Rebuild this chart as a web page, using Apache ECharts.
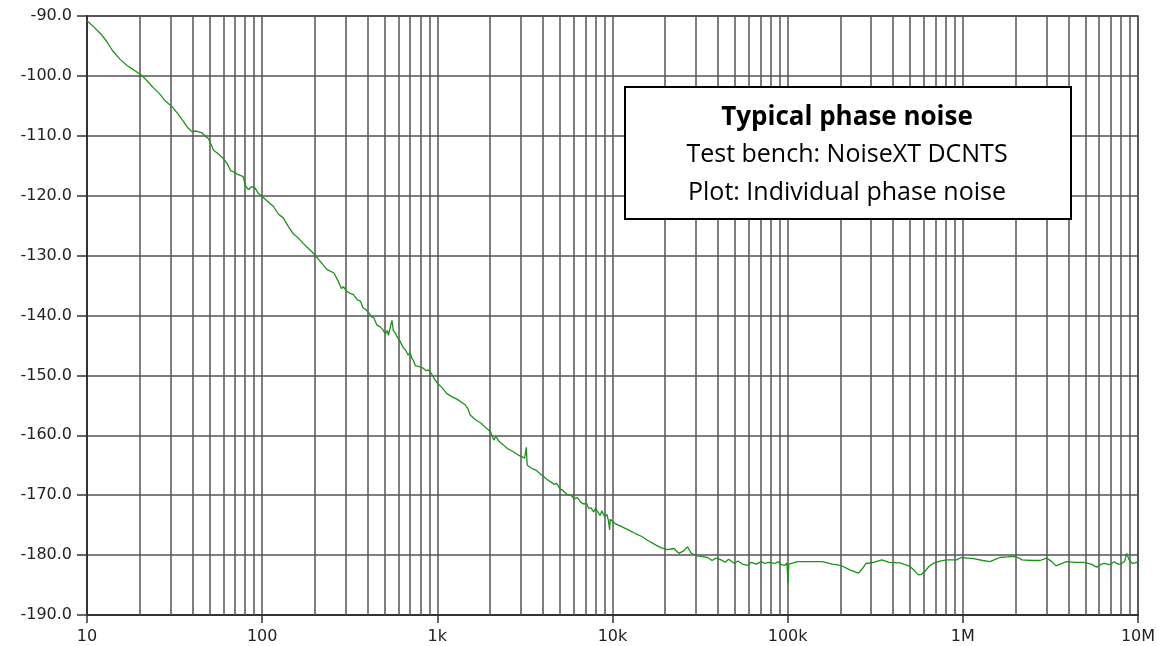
<!DOCTYPE html>
<html>
<head>
<meta charset="utf-8">
<script src="https://cdn.jsdelivr.net/npm/echarts@6/dist/echarts.min.js"></script>
<style>
html,body{margin:0;padding:0;background:#fff;}
#chart{width:1159px;height:646px;}
</style>
</head>
<body>
<div id="chart"></div>
<script>
// Offset frequency (Hz)
var freq = [
10,11,12,13,14,15.4,17,18.5,20.5,22,24,26,28,30.5,33,35.5,37.5,39.7,42,45.3,47.5,49.4,52.8,56,60,63,66,68.5,72,78,80,83.5,87,91,95,99.6,
106,116,124,132,140,150,160,172,185,196,215,234,257,272,283,291,305,318,332,350,364,376,390,405,420,434,452,472,490,505,518,526,540,551,560,575,588,610,640,660,680,700,714,730,750,780,800,830,860,890,930,972,
1000,1060,1130,1200,1300,1443,1490,1541,1650,1780,1900,2010,2100,2160,2250,2380,2510,2700,2900,3055,3150,3220,3240,3260,3450,3650,3890,4200,4500,4650,4800,5000,5200,5520,5800,6050,6300,6600,6880,7100,7300,7530,7800,8000,8240,8500,8700,9000,9300,9500,9630,9700,9840,
10300,11200,12300,13500,14700,16000,17600,19000,20600,22400,23900,25500,26800,28000,30000,32000,34900,37000,39000,41700,44000,46000,49700,52000,55000,59300,62000,66000,70800,74000,78000,84600,88000,92000,96400,99000,100500,101500,104000,
114000,130000,157000,180000,200000,228000,254000,268000,280000,310000,344000,380000,437000,500000,530000,557000,580000,605000,640000,676000,740000,807000,920000,980000,
1000000,1060000,1150000,1300000,1430000,1530000,1630000,1800000,1950000,2100000,2170000,2500000,2760000,3000000,3200000,3400000,3600000,3900000,4400000,4900000,5400000,5800000,6100000,6400000,6900000,7300000,7700000,8000000,8400000,8600000,8900000,9300000,9650000,10000000
];
// Phase noise (dBc/Hz)
var phaseNoise = [
-90.8,-91.9,-93.0,-94.3,-95.8,-97.2,-98.3,-99.0,-99.9,-100.8,-102.0,-103.0,-104.2,-105.1,-106.3,-107.6,-108.6,-109.3,-109.2,-109.5,-110.1,-110.5,-112.4,-113.0,-113.8,-114.6,-115.8,-116.0,-116.4,-116.8,-118.3,-119.0,-118.5,-118.7,-119.6,-120.1,
-120.8,-121.8,-123.1,-123.7,-125.0,-126.3,-127.0,-128.0,-128.9,-129.6,-131.0,-132.3,-132.9,-134.3,-135.5,-135.2,-136.0,-136.3,-136.5,-137.4,-137.6,-138.7,-139.0,-139.5,-140.2,-140.4,-141.6,-141.9,-142.4,-143.1,-142.5,-143.3,-141.8,-140.8,-142.5,-142.9,-143.5,-144.2,-145.4,-145.8,-146.6,-146.2,-147.1,-147.5,-148.4,-148.5,-148.6,-148.8,-149.2,-149.1,-149.8,-150.8,
-151.3,-152.0,-153.0,-153.5,-154.0,-154.9,-155.5,-156.6,-157.4,-158.0,-158.8,-159.4,-160.8,-160.2,-161.0,-161.6,-162.2,-162.7,-163.3,-163.6,-163.8,-162.0,-163.6,-165.0,-165.5,-165.8,-166.5,-167.3,-167.9,-168.2,-168.0,-168.9,-169.2,-169.9,-170.0,-170.6,-170.4,-171.2,-171.5,-171.3,-172.2,-172.1,-172.8,-172.2,-172.8,-173.4,-172.6,-173.6,-173.2,-174.4,-175.8,-174.0,-174.1,
-174.7,-175.2,-175.8,-176.4,-176.9,-177.6,-178.3,-178.8,-179.1,-178.9,-179.7,-179.3,-178.6,-179.6,-180.1,-180.2,-180.4,-180.9,-180.5,-180.8,-181.2,-180.7,-181.4,-181.0,-181.5,-181.7,-181.2,-181.5,-181.1,-181.4,-181.2,-181.4,-181.1,-181.6,-181.7,-181.3,-184.7,-181.5,-181.2,
-181.1,-181.1,-181.1,-181.5,-181.7,-182.5,-183.0,-182.2,-181.4,-181.2,-180.8,-181.2,-181.3,-181.9,-182.6,-183.3,-183.2,-182.8,-181.9,-181.4,-181.0,-180.8,-180.8,-180.4,
-180.2,-180.5,-180.6,-180.9,-181.1,-180.7,-180.4,-180.3,-180.2,-180.5,-180.8,-180.9,-180.9,-180.5,-181.0,-181.8,-181.5,-181.1,-181.2,-181.2,-181.5,-182.0,-181.6,-181.4,-181.6,-181.1,-181.5,-181.5,-181.0,-179.7,-180.8,-181.4,-181.3,-181.1
];
var xTickLabels = ['10','100','1k','10k','100k','1M','10M'];
var boxTitle = 'Typical phase noise';
var boxLines = ['Test bench: NoiseXT DCNTS', 'Plot: Individual phase noise'];

var points = freq.map(function(f, i){ return [f, phaseNoise[i]]; });
var minorX = [];
for (var d = 10; d < 1e7; d *= 10) {
  for (var m = 2; m <= 9; m++) minorX.push({xAxis: d * m});
}
var gridColor = '#555';
var labelFont = {fontFamily: 'DejaVu Sans', fontSize: 16, color: '#222'};

var chart = echarts.init(document.getElementById('chart'), null, {renderer: 'canvas'});
chart.setOption({
  animation: false,
  backgroundColor: '#fff',
  grid: {left: 87, right: 21, top: 16, bottom: 31, show: true, borderColor: '#333', borderWidth: 1.5, backgroundColor: 'transparent'},
  xAxis: {
    type: 'log', logBase: 10, min: 10, max: 1e7,
    axisLine: {show: true, onZero: false, lineStyle: {color: '#333', width: 2}},
    axisTick: {show: true, length: 8, lineStyle: {color: '#333', width: 1.5}},
    axisLabel: Object.assign({margin: 14, formatter: function(v){
      var k = Math.round(Math.log10(v)) - 1; return xTickLabels[k] || '';
    }}, labelFont),
    splitLine: {show: true, lineStyle: {color: gridColor, width: 1.5}},
    minorTick: {show: false}, minorSplitLine: {show: false}
  },
  yAxis: {
    type: 'value', min: -190, max: -90, interval: 10,
    axisLine: {show: true, lineStyle: {color: '#333', width: 2}},
    axisTick: {show: true, length: 10, lineStyle: {color: '#333', width: 1.5}},
    axisLabel: Object.assign({margin: 15, formatter: function(v){ return v.toFixed(1); }}, labelFont),
    splitLine: {show: true, lineStyle: {color: gridColor, width: 1.5}}
  },
  graphic: [
    {type: 'rect', left: 624, top: 86, z: 200, zlevel: 1, shape: {x: 0, y: 0, width: 446, height: 132}, style: {fill: '#fff', stroke: '#000', lineWidth: 2}},
    {type: 'text', x: 847, y: 118, z: 201, zlevel: 1, style: {text: boxTitle, fill: '#000', font: 'bold 26px "Open Sans"', textAlign: 'center', textVerticalAlign: 'middle'}},
    {type: 'text', x: 847, y: 155, z: 201, zlevel: 1, style: {text: boxLines[0], fill: '#000', font: '25px "Open Sans"', textAlign: 'center', textVerticalAlign: 'middle'}},
    {type: 'text', x: 847, y: 193, z: 201, zlevel: 1, style: {text: boxLines[1], fill: '#000', font: '25px "Open Sans"', textAlign: 'center', textVerticalAlign: 'middle'}}
  ],
  series: [{
    type: 'line', data: points, showSymbol: false, symbol: 'none', z: 10,
    lineStyle: {color: '#1b931b', width: 1.3},
    markLine: {
      silent: true, symbol: 'none', label: {show: false}, z: 1,
      lineStyle: {color: gridColor, width: 1.5, type: 'solid'},
      data: minorX
    }
  }]
});
</script>
</body>
</html>
